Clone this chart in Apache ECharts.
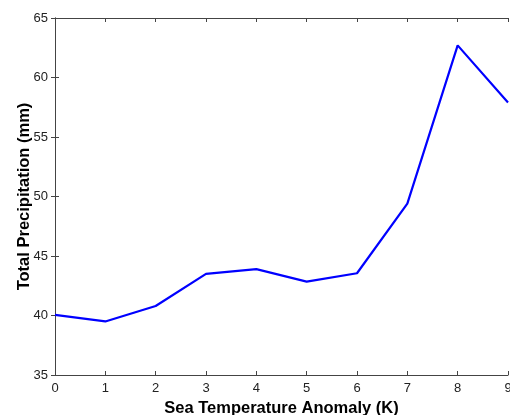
<!DOCTYPE html>
<html><head><meta charset="utf-8">
<script src="https://cdn.jsdelivr.net/npm/echarts@6/dist/echarts.min.js"></script>
<style>html,body{margin:0;padding:0;background:#fff}#c{width:510px;height:415px}</style>
</head><body><div id="c"></div>
<script>
var xValues = [0, 1, 2, 3, 4, 5, 6, 7, 8, 9];
var precipitation = [40.05, 39.5, 40.8, 43.5, 43.9, 42.85, 43.55, 49.4, 62.7, 57.9];
var xTitle = 'Sea Temperature Anomaly (K)';
var yTitle = 'Total Precipitation (mm)';

var chart = echarts.init(document.getElementById('c'));
var axisLine = {show: true, lineStyle: {color: '#444', width: 1}};
var tickIn = {show: true, inside: true, length: 4, lineStyle: {color: '#444'}};
var lbl = {color: '#222', fontFamily: 'Liberation Sans, Arial', fontSize: 13};
var titleStyle = {fontFamily: 'Liberation Sans, Arial', fontWeight: 'bold', fontSize: 16.5, color: '#000'};
chart.setOption({
  animation: false,
  grid: {left: 55, right: 2, top: 18, bottom: 40, outerBoundsMode: 'none', containLabel: false},
  xAxis: [{
    type: 'value', min: 0, max: 9, interval: 1,
    axisLine: axisLine, axisTick: tickIn, splitLine: {show: false},
    axisLabel: Object.assign({margin: 7, showMaxLabel: true}, lbl),
    name: xTitle, nameLocation: 'middle', nameGap: 25, nameMoveOverlap: false,
    nameTextStyle: titleStyle
  }, {
    type: 'value', position: 'top', min: 0, max: 9, interval: 1,
    axisLine: axisLine, axisTick: tickIn, splitLine: {show: false}, axisLabel: {show: false}
  }],
  yAxis: [{
    type: 'value', min: 35, max: 65, interval: 5,
    axisLine: axisLine, axisTick: tickIn, splitLine: {show: false},
    axisLabel: Object.assign({margin: 7}, lbl),
    name: yTitle, nameLocation: 'middle', nameGap: 22, nameRotate: 90, nameMoveOverlap: false,
    nameTextStyle: titleStyle
  }, {
    type: 'value', position: 'right', min: 35, max: 65, interval: 5,
    axisLine: axisLine, axisTick: tickIn, splitLine: {show: false}, axisLabel: {show: false}
  }],
  series: [{
    type: 'line',
    data: xValues.map(function (x, i) { return [x, precipitation[i]]; }),
    showSymbol: false, symbol: 'none',
    lineStyle: {color: '#0000ff', width: 2.2},
    clip: false
  }]
});
</script></body></html>
